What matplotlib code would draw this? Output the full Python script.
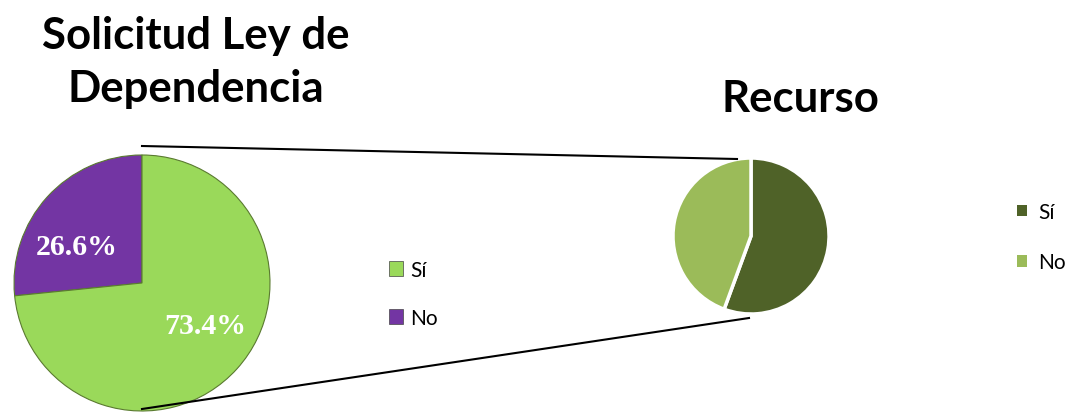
import matplotlib.pyplot as plt
from matplotlib.patches import Patch

# Datos
etiquetas = ['Sí', 'No']
solicitud = [73.4, 26.6]     # Solicitud Ley de Dependencia (%)
recurso = [55.6, 44.4]       # Recurso (%)

col_solicitud = ['#9ad95a', '#7335a3']
col_recurso = ['#4f6228', '#9bbb59']

plt.rcParams['font.family'] = ['Lato', 'DejaVu Sans']

W, H = 1072, 414
fig = plt.figure(figsize=(W / 100, H / 100), dpi=100)
ax = fig.add_axes([0, 0, 1, 1])

# Pie grande (izquierda), 'No' arriba a la izquierda en sentido antihorario
c1, r1 = (142, H - 284), 128
ax.pie([solicitud[1], solicitud[0]], colors=[col_solicitud[1], col_solicitud[0]],
       startangle=90, counterclock=True, center=c1, radius=r1,
       wedgeprops=dict(edgecolor='#5a7a30', linewidth=0.8))

ax.text(c1[0] - 65, c1[1] + 36, f'{solicitud[1]}%', color='white', fontsize=21.5,
        fontweight='bold', family='Liberation Serif', ha='center', va='center')
ax.text(c1[0] + 63, c1[1] - 43, f'{solicitud[0]}%', color='white', fontsize=21.5,
        fontweight='bold', family='Liberation Serif', ha='center', va='center')

# Pie pequeño (derecha)
c2, r2 = (751, H - 237), 78
ax.pie(recurso, colors=col_recurso, startangle=90, counterclock=False,
       center=c2, radius=r2, explode=[0.05, 0],
       wedgeprops=dict(edgecolor='white', linewidth=2.5))

ax.set_xlim(0, W)
ax.set_ylim(0, H)
ax.set_aspect('equal')
ax.axis('off')

# Líneas de conexión
ax.plot([c1[0], c2[0] - 14], [c1[1] + r1 + 9, c2[1] + r2 - 1], color='black', lw=1.5)
ax.plot([c1[0], c2[0] - 2], [c1[1] - r1 + 2, c2[1] - r2 - 4], color='black', lw=1.5)

# Títulos
ax.text(196, H - 49, 'Solicitud Ley de', fontsize=31.5, fontweight='bold',
        ha='center', va='baseline')
ax.text(196, H - 102, 'Dependencia', fontsize=31.5, fontweight='bold',
        ha='center', va='baseline')
ax.text(800, H - 112, 'Recurso', fontsize=31.5, fontweight='bold',
        ha='center', va='baseline')

# Leyendas
h1 = [Patch(facecolor=c, edgecolor='#444444', linewidth=0.5) for c in col_solicitud]
h2 = [Patch(facecolor=c, edgecolor='none') for c in col_recurso]
leg1 = ax.legend(h1, etiquetas, loc='center left', bbox_to_anchor=(370 / W, 1 - 295 / H),
                 bbox_transform=fig.transFigure, frameon=False, fontsize=15,
                 handlelength=0.7, handleheight=0.7, handletextpad=0.35, labelspacing=1.35)
ax.add_artist(leg1)
ax.legend(h2, etiquetas, loc='center left', bbox_to_anchor=(998 / W, 1 - 238 / H),
          bbox_transform=fig.transFigure, frameon=False, fontsize=15,
          handlelength=0.5, handleheight=0.5, handletextpad=0.55, labelspacing=1.45)

fig.savefig('out.png', dpi=100)
